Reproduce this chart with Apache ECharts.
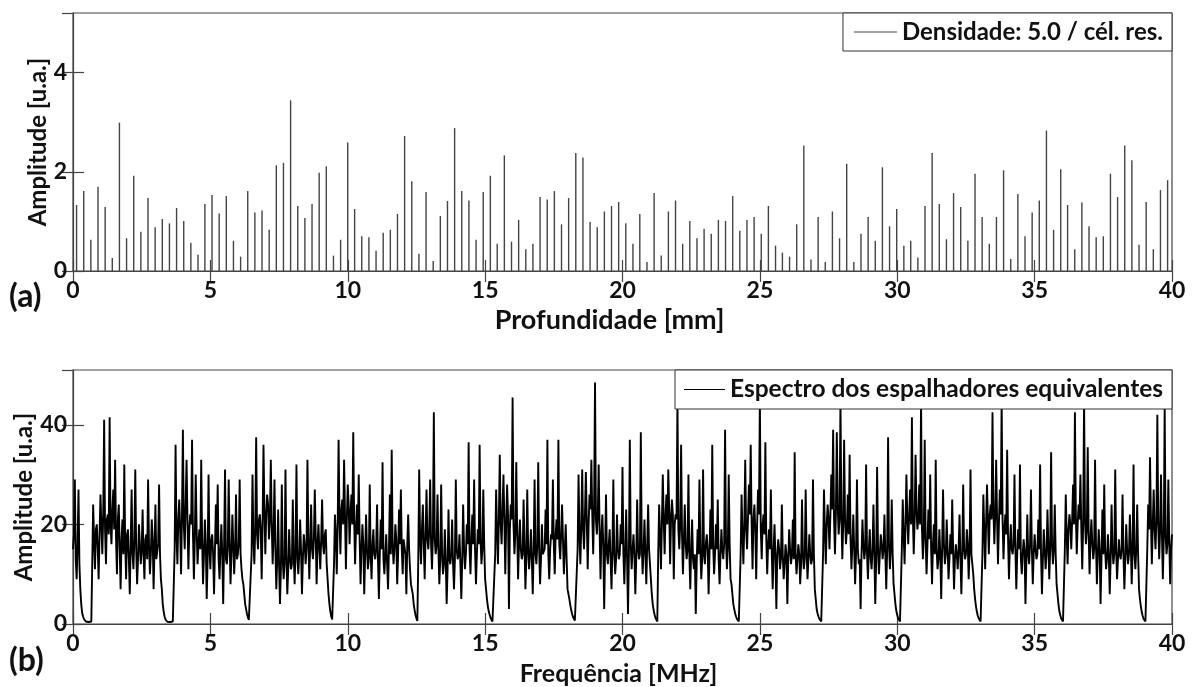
<!DOCTYPE html>
<html>
<head>
<meta charset="utf-8">
<script src="https://cdn.jsdelivr.net/npm/echarts@6/dist/echarts.min.js"></script>
<style>
  html, body { margin: 0; padding: 0; background: #fff; }
  #chart { width: 1195px; height: 687px; }
</style>
</head>
<body>
<div id="chart"></div>
<script>
// (a) scatterer positions [mm] and amplitudes [u.a.]
const depthMm = [
  0.13,0.39,0.65,0.91,1.17,1.43,1.69,1.95,2.21,2.47,
  2.73,2.99,3.25,3.51,3.77,4.03,4.29,4.55,4.80,5.06,
  5.32,5.58,5.84,6.10,6.36,6.62,6.88,7.14,7.40,7.66,
  7.92,8.18,8.44,8.70,8.96,9.22,9.48,9.74,10.00,10.25,
  10.51,10.77,11.03,11.29,11.55,11.81,12.07,12.33,12.59,12.85,
  13.11,13.37,13.63,13.89,14.15,14.41,14.67,14.93,15.19,15.44,
  15.70,15.96,16.22,16.48,16.74,17.00,17.26,17.52,17.78,18.04,
  18.30,18.56,18.82,19.08,19.34,19.60,19.86,20.12,20.38,20.63,
  20.89,21.15,21.41,21.67,21.93,22.19,22.45,22.71,22.97,23.23,
  23.49,23.75,24.01,24.27,24.53,24.79,25.05,25.31,25.57,25.82,
  26.08,26.34,26.60,26.86,27.12,27.38,27.64,27.90,28.16,28.42,
  28.68,28.94,29.20,29.46,29.72,29.98,30.24,30.49,30.75,31.01,
  31.27,31.53,31.79,32.05,32.31,32.57,32.83,33.09,33.35,33.61,
  33.87,34.13,34.39,34.65,34.91,35.17,35.43,35.69,35.95,36.20,
  36.46,36.72,36.98,37.24,37.50,37.76,38.02,38.28,38.54,38.80,
  39.06,39.32,39.58,39.84
];
const amplitudeA = [
  1.33,1.61,0.63,1.70,1.29,0.26,2.99,0.66,1.92,0.79,
  1.47,0.88,1.05,0.96,1.27,1.01,0.57,0.33,1.35,1.53,
  1.16,1.51,0.61,0.29,1.61,1.18,1.22,0.83,2.13,2.18,
  3.44,1.31,1.07,1.35,1.98,2.11,0.31,0.63,2.59,1.25,
  0.70,0.68,0.41,0.77,0.83,1.15,2.72,1.81,0.35,1.59,
  0.20,1.11,1.41,2.88,1.61,1.42,0.63,1.59,1.92,0.55,
  2.33,0.59,1.03,0.44,0.55,1.49,1.44,1.61,0.94,1.47,
  2.38,2.29,0.99,0.88,1.20,1.31,1.39,0.96,0.55,1.15,
  0.18,1.57,0.31,1.20,1.42,0.55,1.01,0.66,0.85,0.75,
  1.03,1.01,1.51,0.81,1.03,1.09,0.75,1.31,0.51,0.37,
  0.29,0.94,2.53,0.23,1.09,0.18,1.20,0.66,2.16,0.18,
  0.75,1.09,0.61,2.09,0.90,1.25,0.51,0.61,0.27,1.31,
  2.38,1.35,0.64,1.57,1.29,0.61,1.96,1.09,0.55,1.09,
  2.03,0.24,1.55,0.70,1.18,1.42,2.83,0.83,2.05,1.33,
  0.44,1.38,0.90,0.68,0.70,1.96,1.49,2.53,2.23,0.53,
  1.39,0.44,1.63,1.83
];

// (b) spectrum, read block by block; every block ends in the dip towards zero
const spec01 = [15,18,29,13,9,16,27,12,7,4,2.2,1.5,1.0,0.7,0.5,0.45,0.4,0.4,0.4,0.45,0.5,12];
const spec02 = [24,17,11,19,20,15,9,18,26,20,14,22,41,19,12,21,22,18,41.5,20,16,23,27,19,33,17,10,21,24,15,
  7,17,21,14,32,16,9,18,19,13,6,16,27,14,11,17,31,15,8,13,20,16,12,15,23,14,9,17,18,13,
  29,16,10,14,21,17,7,15,24,13,13,16,28,14,9,7,4,2.5,1.5,0.9,0.5,0.45,0.4,0.4,0.4,0.4,0.4,0.5,0.6,15];
const spec03 = [36,18,12,21,25,19,10,22,39,20,15,24,33,21,11,19,22,20,37,18,9,17,30,19,12,16,19,15,33,17,
  8,14,21,16,5,13,30,15,11,17,18,14,6,15,24,16,28,13,9,15,20,14,4,16,31,13,12,15,29,17,
  8,14,22,16,10,15,26,13,14,16,29,14,11,9,8,6,4,3,2,1.3,0.8,0.6,0.5,14];
const spec04 = [30,17,12,19,37.5,18,15,21,22,19,9,20,36,23,14,22,26,24,17,21,33,20,12,18,29,15,7,13,23,12,
  4,11,28,13,9,12,31,14,6,11,19,13,11,12,25,14,8,15,32,13,10,14,21,15,6,13,18,16,12,15,
  33,17,9,16,24,15,13,17,27,18,8,16,20,15,11,17,25,16,14,18,19,12,9,6,4,2.5,1.5,0.9,0.6,12];
const spec05 = [22,18,10,20,37,21,14,23,25,20,33,22,11,21,28,24,16,22,26,20,38.5,21,12,19,24,18,30,17,8,15,
  20,16,6,14,22,15,11,13,28,14,9,16,19,14,13,15,24,13,5,14,21,15,32.5,13,10,14,18,12,7,15,
  26,14,35,16,12,15,20,17,8,14,23,16,27,15,10,17,17,14,6,16,22,15,11,8,8,6,4,2.8,1.8,1.1,0.6,13];
const spec06 = [31,17,12,19,24,16,9,18,27,17,15,19,29,16,11,18,42.5,17,14,16,26,15,8,13,28,14,10,12,19,13,
  4,11,23,13,12,14,21,12,7,13,29,15,13,14,18,12,5,13,24,15,11,14,20,16,36.5,15,10,17,22,16,
  29,15,8,14,19,16,36,17,12,15,27,16,9,7,5,3.5,2.5,1.8,1.2,0.8,0.5,0.45,0.4,14];
const spec07 = [27,19,12,21,34,20,16,23,30,21,10,20,28,22,3,19,24,21,45.5,20,14,18,32.5,19,9,16,21,15,13,14,
  25,16,7,13,27,15,11,14,19,13,6,15,29,14,12,16,32.5,15,8,13,20,14,14,15,23,16,37,14,9,15,
  18,17,29,16,10,18,21,17,37,16,13,18,24,17,10,15,20,13,7,6,5,3.8,2.8,2,1.4,1,0.7,0.5,0.4,15];
const spec08 = [30,18,12,20,31,19,15,22,30.5,21,11,20,26,23,33,22,14,24,48.5,21,18,22,32,19,9,18,22,16,3,15,
  26,14,12,16,19,13,7,15,29,14,10,13,22,15,13,14,20,16,31.5,14,8,15,23,13,2,14,37,16,11,15,
  18,14,6,13,25,15,13,14,38.5,16,10,15,21,14,8,16,24,15,12,9,6,4,2.8,1.9,1.2,0.8,0.5,14];
const spec09 = [24,18,11,20,30,21,14,22,26,20,31,23,12,21,25,22,9,20,22,21,45,19,15,20,36,18,10,17,24,16,
  13,15,30,14,7,15,21,13,11,14,2,12,19,14,29,15,9,13,31,14,12,16,18,15,6,14,23,15,36,16,
  10,14,20,15,25,13,8,14,19,15,13,16,39,17,11,15,30,16,9,8,6,4,3,2.1,1.5,1,0.7,0.5,0.4,14];
const spec10 = [26,18,12,20,33,19,15,21,28,22,36,20,11,21,24,19,9,20,27,22,45,19,13,20,22,18,36.5,17,10,16,
  19,15,27,14,7,15,20,13,3,14,17,15,11,13,24,14,9,12,16,14,4,13,19,15,12,14,21,13,34.5,14,
  10,13,16,14,8,12,25,14,11,13,27,15,9,13,18,14,12,13,29,14,7,5,3,2.1,1.5,1,0.6,0.5,0.4,14];
const spec11 = [27,19,12,20,24,21,15,22,30,23,39,21,14,22,38.5,24,18,21,45,22,13,20,37,21,16,19,26,18,34,17,
  11,16,22,15,8,14,29,15,12,13,3,14,21,16,13,15,32,14,9,15,19,13,11,15,24,14,4,13,31.5,15,
  10,14,18,16,13,15,22,14,7,15,37.5,16,11,15,25,14,8,6,4,2.6,1.8,1.1,0.7,0.5,0.4,15];
const spec12 = [25,18,12,20,30,21,16,22,27,20,41.5,22,14,21,34,23,19,21,28,20,45,19,13,18,37,17,10,16,23,17,
  30,15,8,16,20,14,33,15,11,13,19,14,5,15,27,16,12,14,21,15,9,13,18,14,25,15,7,13,16,14,
  11,15,22,13,6,14,28,15,13,14,19,16,9,15,31,14,12,10,7,5,3.5,2.4,1.6,1.1,0.7,0.5,0.4,14];
const spec13 = [26,19,11,20,28,21,14,22,24,21,42.5,23,16,22,33,21,12,20,27,22,45,21,13,19,22,18,35,17,9,16,
  20,15,14,16,30,15,7,14,19,15,32,13,10,14,17,15,4,13,22,14,12,16,27,15,8,14,18,15,13,14,
  21,15,32,14,6,13,19,15,11,14,23,16,9,15,34.5,16,12,15,24,14,8,6,4,2.6,1.8,1.1,0.7,0.5,0.4,15];
const spec14 = [26,18,12,19,22,20,15,21,28,20,42.5,22,14,20,24,21,30,19,11,20,45,21,16,19,35.5,18,10,17,21,16,
  13,15,33,16,8,14,19,15,4,13,23,14,28,15,11,13,18,14,6,13,24,15,12,14,31,15,9,13,17,14,
  13,15,26,14,7,13,20,15,12,14,22,16,8,15,32,14,11,15,24,14,7,5,3.5,2.4,1.6,1,0.6,0.5,0.4,15];
const spec15 = [24,19,33.5,21,12,20,27,19,15,21,42,20,13,19,30,18,9,17,44,18,14,16,29,17,8,15,18];
const freqMaxMHz = 40;

const spectrum = [].concat(spec01, spec02, spec03, spec04, spec05, spec06, spec07, spec08,
  spec09, spec10, spec11, spec12, spec13, spec14, spec15);
const freqStep = freqMaxMHz / (spectrum.length - 1);
const spectrumData = spectrum.map(function (v, i) { return [i * freqStep, v]; });
const stemData = depthMm.map(function (d, i) { return [d, amplitudeA[i]]; });

const FONT = 'Lato';
const ink = '#111';
const frame = '#444';

function mainX(grid, name, gap, nameSize, shift) {
  return {
    gridIndex: grid, type: 'value', min: 0, max: 40, interval: 5,
    name: name, nameLocation: 'middle', nameGap: gap, nameMoveOverlap: false,
    nameTextStyle: { fontFamily: FONT, fontWeight: 'bold', fontSize: nameSize, color: ink, padding: [0, shift, 0, 0] },
    axisLine: { lineStyle: { color: frame, width: 1.2 } },
    axisTick: { inside: true, length: 11, lineStyle: { color: frame, width: 1.2 } },
    axisLabel: { fontFamily: FONT, fontWeight: 'bold', fontSize: 23, color: ink, margin: 8 },
    splitLine: { show: false }
  };
}
function mirrorX(grid) {
  return {
    gridIndex: grid, type: 'value', position: 'top', min: 0, max: 40, interval: 5,
    axisLine: { show: false },
    axisTick: { inside: true, length: 11, lineStyle: { color: frame, width: 1.2 } },
    axisLabel: { show: false }, splitLine: { show: false }
  };
}
function mainY(grid, max, interval, gap) {
  return {
    gridIndex: grid, type: 'value', min: 0, max: max, interval: interval,
    name: 'Amplitude [u.a.]', nameLocation: 'middle', nameGap: gap, nameMoveOverlap: false,
    nameTextStyle: { fontFamily: FONT, fontWeight: 'bold', fontSize: 24, color: ink },
    axisLine: { show: true, lineStyle: { color: frame, width: 1.2 } },
    axisTick: { inside: true, length: 11, lineStyle: { color: frame, width: 1.2 } },
    axisLabel: { fontFamily: FONT, fontWeight: 'bold', fontSize: 23, color: ink, margin: 6, showMaxLabel: false },
    splitLine: { show: false }
  };
}
function mirrorY(grid, max, interval) {
  return {
    gridIndex: grid, type: 'value', position: 'right', min: 0, max: max, interval: interval,
    axisLine: { show: false },
    axisTick: { inside: true, length: 11, lineStyle: { color: frame, width: 1.2 } },
    axisLabel: { show: false }, splitLine: { show: false }
  };
}

const legendBase = {
  orient: 'horizontal', right: 23, icon: 'rect',
  itemHeight: 1, borderColor: '#333', borderWidth: 1, borderRadius: 0,
  backgroundColor: '#fff',
  selectedMode: false
};
const legendText = { fontFamily: FONT, fontWeight: 'bold', color: ink };

const chart = echarts.init(document.getElementById('chart'));
chart.setOption({
  animation: false,
  grid: [
    { left: 73, right: 23, top: 13, height: 258, show: true, borderColor: frame, borderWidth: 1.2 },
    { left: 73, right: 23, top: 370, height: 255, show: true, borderColor: frame, borderWidth: 1.2 }
  ],
  xAxis: [
    mainX(0, 'Profundidade [mm]', 36, 27, 26), mirrorX(0),
    mainX(1, 'Frequência [MHz]', 37, 25, 8), mirrorX(1)
  ],
  yAxis: [
    mainY(0, 5.2, 2, 23), mirrorY(0, 5.2, 2),
    mainY(1, 51, 20, 37), mirrorY(1, 51, 20)
  ],
  legend: [
    Object.assign({}, legendBase, {
      top: 13, data: ['Densidade: 5.0 / cél. res.'], itemWidth: 43, padding: [7, 9, 7, 11],
      textStyle: Object.assign({ fontSize: 24 }, legendText)
    }),
    Object.assign({}, legendBase, {
      top: 370, data: ['Espectro dos espalhadores equivalentes'], itemWidth: 41, padding: [7, 9, 7, 9],
      textStyle: Object.assign({ fontSize: 24.5 }, legendText)
    })
  ],
  graphic: [
    { type: 'text', left: 9, top: 281, style: { text: '(a)', font: 'bold 32px Lato', fill: ink } },
    { type: 'text', left: 9, top: 645, style: { text: '(b)', font: 'bold 32px Lato', fill: ink } }
  ],
  series: [
    {
      name: 'Densidade: 5.0 / cél. res.', type: 'bar',
      xAxisIndex: 0, yAxisIndex: 0,
      barWidth: 1.4, color: '#444',
      itemStyle: { color: '#444' },
      data: stemData
    },
    {
      name: 'Espectro dos espalhadores equivalentes', type: 'line',
      xAxisIndex: 2, yAxisIndex: 2,
      showSymbol: false, color: '#000',
      lineStyle: { color: '#000', width: 1.9 },
      data: spectrumData
    }
  ]
});
</script>
</body>
</html>
